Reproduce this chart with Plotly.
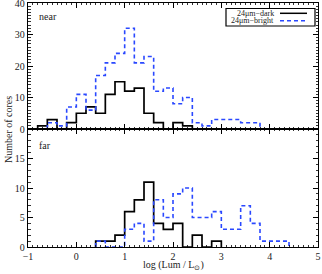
import plotly.graph_objects as go
from plotly.subplots import make_subplots

# Bin left edges (log Lum / Lsun), bin width 0.2
bin_left = [-1.0, -0.8, -0.6, -0.4, -0.2, 0.0, 0.2, 0.4, 0.6, 0.8,
            1.0, 1.2, 1.4, 1.6, 1.8, 2.0, 2.2, 2.4, 2.6, 2.8,
            3.0, 3.2, 3.4, 3.6, 3.8, 4.0, 4.2, 4.4, 4.6, 4.8]
bin_width = 0.2

near_dark = [0, 1, 3, 0, 2, 5, 7, 5, 11, 15,
             12, 13, 5, 2, 0, 2, 1, 0, 0, 0,
             0, 0, 0, 0, 0, 0, 0, 0, 0, 0]
near_bright = [0, 0, 2, 1, 7, 11, 6, 17, 21, 24,
               32, 21, 23, 12, 13, 8, 10, 2, 1, 3,
               3, 3, 2, 2, 0, 0, 0, 0, 0, 0]
far_dark = [0, 0, 0, 0, 0, 0, 0, 1, 1, 2,
            6, 8, 11, 4, 3, 4, 0, 2, 0, 1,
            0, 0, 0, 0, 0, 0, 0, 0, 0, 0]
far_bright = [0, 0, 0, 0, 0, 0, 0, 1, 0, 0,
              3, 4, 1, 8, 5, 9, 10, 5, 5, 6,
              3, 3, 7, 4, 1, 1, 1, 0, 0, 0]

x_ticks = [-1, 0, 1, 2, 3, 4, 5]
near_yticks = [0, 10, 20, 30, 40]
far_yticks = [0, 5, 10, 15]

BLUE = "#2a48ff"
FONT = "Liberation Serif"
TXT = "#222222"


def step_xy(counts):
    idx = [i for i, c in enumerate(counts) if c != 0]
    a, b = idx[0], idx[-1]
    xs = [bin_left[a]]
    ys = [0]
    for i in range(a, b + 1):
        xs.append(bin_left[i])
        ys.append(counts[i])
    xs.append(bin_left[b] + bin_width)
    ys.append(0)
    return xs, ys


fig = make_subplots(rows=2, cols=1, shared_xaxes=False, vertical_spacing=0)

for row, dark, bright in [(1, near_dark, near_bright), (2, far_dark, far_bright)]:
    xs, ys = step_xy(dark)
    fig.add_trace(go.Scatter(x=xs, y=ys, mode="lines", line=dict(color="black", width=1.7, shape="hv"),
                             showlegend=False, hoverinfo="skip", cliponaxis=False), row=row, col=1)
    xs, ys = step_xy(bright)
    fig.add_trace(go.Scatter(x=xs, y=ys, mode="lines",
                             line=dict(color=BLUE, width=1.6, shape="hv", dash="4px,3px"),
                             showlegend=False, hoverinfo="skip", cliponaxis=False), row=row, col=1)

W, H = 322, 274
L, R, T, B = 28, 4, 3, 27
pw, ph = W - L - R, H - T - B
split_px = 129
split = (H - B - split_px) / ph

axis_common = dict(showline=True, linecolor="black", linewidth=1.3, mirror="ticks",
                   ticks="inside", tickcolor="black", showgrid=False, zeroline=False,
                   automargin=False, ticklabeloverflow="allow",
                   tickfont=dict(family=FONT, size=10, color=TXT))

fig.update_xaxes(range=[-1, 5], tickvals=x_ticks, ticklen=5, tickwidth=1,
                 minor=dict(ticks="inside", dtick=0.1, ticklen=2, tickcolor="black", tickwidth=0.8),
                 **axis_common)
fig.update_xaxes(showticklabels=False, row=1, col=1)
fig.update_yaxes(ticklen=5, tickwidth=1,
                 minor=dict(ticks="inside", dtick=1, ticklen=2.5, tickcolor="black", tickwidth=0.8),
                 **axis_common)
fig.update_yaxes(range=[0, 40], tickvals=near_yticks, domain=[split, 1], row=1, col=1)
fig.update_yaxes(range=[0, 20], tickvals=far_yticks, domain=[0, split], row=2, col=1)


def px_x(p):
    return (p - L) / pw


def px_y(p):
    return (H - B - p) / ph


annotations = [
    dict(text="near", x=px_x(37), y=px_y(16), xref="paper", yref="paper", xanchor="left",
         yanchor="middle", showarrow=False, font=dict(family=FONT, size=10, color=TXT)),
    dict(text="far", x=px_x(37), y=px_y(145), xref="paper", yref="paper", xanchor="left",
         yanchor="middle", showarrow=False, font=dict(family=FONT, size=10, color=TXT)),
    dict(text="log (Lum / L<sub>⊙</sub>)", x=px_x(173), y=px_y(265), xref="paper", yref="paper",
         xanchor="center", yanchor="middle", showarrow=False,
         font=dict(family=FONT, size=10, color=TXT)),
    dict(text="Number of cores", x=px_x(8), y=px_y(130), xref="paper", yref="paper",
         xanchor="center", yanchor="middle", textangle=-90, showarrow=False,
         font=dict(family=FONT, size=10, color=TXT)),
    dict(text="24μm−dark", x=px_x(276), y=px_y(13.3), xref="paper", yref="paper",
         xanchor="right", yanchor="middle", showarrow=False,
         font=dict(family=FONT, size=8, color=TXT)),
    dict(text="24μm−bright", x=px_x(276), y=px_y(20.7), xref="paper", yref="paper",
         xanchor="right", yanchor="middle", showarrow=False,
         font=dict(family=FONT, size=8, color=TXT)),
]

shapes = [
    dict(type="rect", xref="paper", yref="paper", x0=px_x(226), x1=px_x(315),
         y0=px_y(26), y1=px_y(8.5), line=dict(color="black", width=1.2), fillcolor="white",
         layer="below"),
    dict(type="line", xref="paper", yref="paper", x0=px_x(280), x1=px_x(307),
         y0=px_y(13.3), y1=px_y(13.3), line=dict(color="black", width=1.5)),
    dict(type="line", xref="paper", yref="paper", x0=px_x(280), x1=px_x(307),
         y0=px_y(20.7), y1=px_y(20.7), line=dict(color=BLUE, width=1.5, dash="4px,3px")),
]

fig.update_layout(width=W, height=H, margin=dict(l=L, r=R, t=T, b=B),
                  plot_bgcolor="white", paper_bgcolor="white",
                  annotations=annotations, shapes=shapes, showlegend=False)

fig.write_html("out.html", config={"displayModeBar": False, "staticPlot": True})

# remove the default page margin so the figure sits at the window origin
with open("out.html", "r", encoding="utf-8") as f:
    html = f.read()
html = html.replace("<head>", "<head><style>html,body{margin:0;padding:0;overflow:hidden;}</style>", 1)
with open("out.html", "w", encoding="utf-8") as f:
    f.write(html)
